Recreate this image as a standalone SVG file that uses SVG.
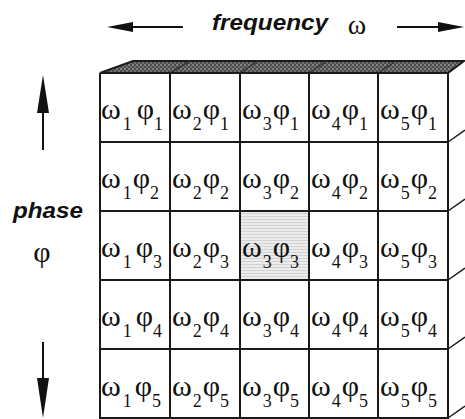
<svg xmlns="http://www.w3.org/2000/svg" width="465" height="419" viewBox="0 0 465 419">
<defs>
<style>
.lbl{font-family:"Liberation Sans",Arial,sans-serif;font-weight:bold;font-style:italic;fill:#111}
.gk{font-family:"Liberation Serif","Times New Roman",serif;font-size:30px;fill:#111}
.sb{font-size:18px}
.grid{stroke:#1a1a1a;stroke-width:2;fill:none}
.ax{stroke:#111;stroke-width:2;fill:none}
.hd{fill:#111}
</style>
<pattern id="stip" width="4" height="4" patternUnits="userSpaceOnUse">
<rect width="4" height="4" fill="#4a4a4a"/>
<rect x="0" y="0" width="2" height="2" fill="#858585"/>
<rect x="2" y="2" width="2" height="2" fill="#707070"/>
</pattern>
<pattern id="hatch" width="4" height="3" patternUnits="userSpaceOnUse">
<rect width="4" height="3" fill="#ececec"/>
<rect y="0" width="4" height="1" fill="#d2d2d2"/>
</pattern>
</defs>
<rect width="465" height="419" fill="#fff"/>

<g id="labels">
<text class="lbl" x="212" y="30" font-size="22" textLength="116" lengthAdjust="spacingAndGlyphs">frequency</text>
<text class="gk" x="357" y="34" text-anchor="middle" style="font-size:28px">ω</text>
<text class="lbl" x="13" y="218" font-size="22" textLength="70" lengthAdjust="spacingAndGlyphs">phase</text>
<text class="gk" x="42" y="262" text-anchor="middle">φ</text>
</g>

<g id="axes">
<line class="ax" x1="128" y1="27" x2="183" y2="27"/>
<polygon class="hd" points="107,27 133,22 133,32"/>
<line class="ax" x1="397" y1="27" x2="442" y2="27"/>
<polygon class="hd" points="464,27 438,22 438,32"/>
<line class="ax" x1="43" y1="105" x2="43" y2="150"/>
<polygon class="hd" points="43,75 37,113 49,113"/>
<line class="ax" x1="43" y1="342" x2="43" y2="385"/>
<polygon class="hd" points="43,418 37,378 49,378"/>
</g>

<g id="box">
<polygon points="100,73 133,61 464,61 448,73" fill="url(#stip)" stroke="#1a1a1a" stroke-width="2"/>
<g stroke="#333" stroke-width="1.5">
<line x1="170" y1="73" x2="190" y2="61"/>
<line x1="240" y1="73" x2="258" y2="61"/>
<line x1="309" y1="73" x2="327" y2="61"/>
<line x1="378" y1="73" x2="396" y2="61"/>
</g>
<rect x="240" y="211" width="69" height="69" fill="url(#hatch)"/>
<g class="grid">
<line x1="100" y1="73" x2="448" y2="73"/>
<line x1="100" y1="142" x2="448" y2="142"/>
<line x1="100" y1="211" x2="448" y2="211"/>
<line x1="100" y1="280" x2="448" y2="280"/>
<line x1="100" y1="349" x2="448" y2="349"/>
<line x1="100" y1="418" x2="448" y2="418"/>
<line x1="100" y1="73" x2="100" y2="419"/>
<line x1="170" y1="73" x2="170" y2="419"/>
<line x1="240" y1="73" x2="240" y2="419"/>
<line x1="309" y1="73" x2="309" y2="419"/>
<line x1="378" y1="73" x2="378" y2="419"/>
<line x1="448" y1="73" x2="448" y2="419"/>
</g>
<g stroke="#1a1a1a" stroke-width="1.5">
<line x1="448" y1="142" x2="465" y2="130"/>
<line x1="448" y1="211" x2="465" y2="199"/>
<line x1="448" y1="280" x2="465" y2="268"/>
<line x1="448" y1="349" x2="465" y2="337"/>
<line x1="448" y1="418" x2="465" y2="406"/>
</g>
</g>

<g id="cells">
<g id="c11"><text class="gk" x="101" y="119">ω<tspan class="sb" dx="2" dy="11">1</tspan><tspan dx="5" dy="-11">φ</tspan><tspan class="sb" dy="11">1</tspan></text></g>
<g id="c21"><text class="gk" x="172" y="119">ω<tspan class="sb" dx="1" dy="11">2</tspan><tspan dx="1" dy="-11">φ</tspan><tspan class="sb" dy="11">1</tspan></text></g>
<g id="c31"><text class="gk" x="242" y="119">ω<tspan class="sb" dx="1" dy="11">3</tspan><tspan dx="1" dy="-11">φ</tspan><tspan class="sb" dy="11">1</tspan></text></g>
<g id="c41"><text class="gk" x="311" y="119">ω<tspan class="sb" dx="1" dy="11">4</tspan><tspan dx="1" dy="-11">φ</tspan><tspan class="sb" dy="11">1</tspan></text></g>
<g id="c51"><text class="gk" x="380" y="119">ω<tspan class="sb" dx="1" dy="11">5</tspan><tspan dx="1" dy="-11">φ</tspan><tspan class="sb" dy="11">1</tspan></text></g>

<g id="c12"><text class="gk" x="101" y="188">ω<tspan class="sb" dx="2" dy="11">1</tspan><tspan dx="1" dy="-11">φ</tspan><tspan class="sb" dy="11">2</tspan></text></g>
<g id="c22"><text class="gk" x="172" y="188">ω<tspan class="sb" dx="1" dy="11">2</tspan><tspan dx="1" dy="-11">φ</tspan><tspan class="sb" dy="11">2</tspan></text></g>
<g id="c32"><text class="gk" x="242" y="188">ω<tspan class="sb" dx="1" dy="11">3</tspan><tspan dx="1" dy="-11">φ</tspan><tspan class="sb" dy="11">2</tspan></text></g>
<g id="c42"><text class="gk" x="311" y="188">ω<tspan class="sb" dx="1" dy="11">4</tspan><tspan dx="1" dy="-11">φ</tspan><tspan class="sb" dy="11">2</tspan></text></g>
<g id="c52"><text class="gk" x="380" y="188">ω<tspan class="sb" dx="1" dy="11">5</tspan><tspan dx="1" dy="-11">φ</tspan><tspan class="sb" dy="11">2</tspan></text></g>

<g id="c13"><text class="gk" x="101" y="257">ω<tspan class="sb" dx="2" dy="11">1</tspan><tspan dx="4" dy="-11">φ</tspan><tspan class="sb" dy="11">3</tspan></text></g>
<g id="c23"><text class="gk" x="172" y="257">ω<tspan class="sb" dx="1" dy="11">2</tspan><tspan dx="1" dy="-11">φ</tspan><tspan class="sb" dy="11">3</tspan></text></g>
<g id="c33"><text class="gk" x="242" y="257">ω<tspan class="sb" dx="1" dy="11">3</tspan><tspan dx="1" dy="-11">φ</tspan><tspan class="sb" dy="11">3</tspan></text></g>
<g id="c43"><text class="gk" x="311" y="257">ω<tspan class="sb" dx="1" dy="11">4</tspan><tspan dx="1" dy="-11">φ</tspan><tspan class="sb" dy="11">3</tspan></text></g>
<g id="c53"><text class="gk" x="380" y="257">ω<tspan class="sb" dx="1" dy="11">5</tspan><tspan dx="1" dy="-11">φ</tspan><tspan class="sb" dy="11">3</tspan></text></g>

<g id="c14"><text class="gk" x="101" y="326">ω<tspan class="sb" dx="2" dy="11">1</tspan><tspan dx="4" dy="-11">φ</tspan><tspan class="sb" dy="11">4</tspan></text></g>
<g id="c24"><text class="gk" x="172" y="326">ω<tspan class="sb" dx="1" dy="11">2</tspan><tspan dx="1" dy="-11">φ</tspan><tspan class="sb" dy="11">4</tspan></text></g>
<g id="c34"><text class="gk" x="242" y="326">ω<tspan class="sb" dx="1" dy="11">3</tspan><tspan dx="1" dy="-11">φ</tspan><tspan class="sb" dy="11">4</tspan></text></g>
<g id="c44"><text class="gk" x="311" y="326">ω<tspan class="sb" dx="1" dy="11">4</tspan><tspan dx="1" dy="-11">φ</tspan><tspan class="sb" dy="11">4</tspan></text></g>
<g id="c54"><text class="gk" x="380" y="326">ω<tspan class="sb" dx="1" dy="11">5</tspan><tspan dx="1" dy="-11">φ</tspan><tspan class="sb" dy="11">4</tspan></text></g>

<g id="c15"><text class="gk" x="101" y="396">ω<tspan class="sb" dx="2" dy="11">1</tspan><tspan dx="3" dy="-11">φ</tspan><tspan class="sb" dy="11">5</tspan></text></g>
<g id="c25"><text class="gk" x="172" y="396">ω<tspan class="sb" dx="1" dy="11">2</tspan><tspan dx="1" dy="-11">φ</tspan><tspan class="sb" dy="11">5</tspan></text></g>
<g id="c35"><text class="gk" x="242" y="396">ω<tspan class="sb" dx="1" dy="11">3</tspan><tspan dx="1" dy="-11">φ</tspan><tspan class="sb" dy="11">5</tspan></text></g>
<g id="c45"><text class="gk" x="311" y="396">ω<tspan class="sb" dx="1" dy="11">4</tspan><tspan dx="1" dy="-11">φ</tspan><tspan class="sb" dy="11">5</tspan></text></g>
<g id="c55"><text class="gk" x="380" y="396">ω<tspan class="sb" dx="1" dy="11">5</tspan><tspan dx="1" dy="-11">φ</tspan><tspan class="sb" dy="11">5</tspan></text></g>
</g>
</svg>
